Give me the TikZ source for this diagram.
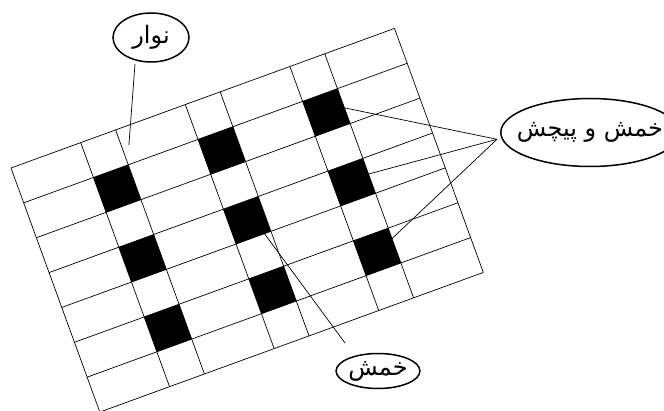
\documentclass[tikz,border=0pt]{standalone}
\usepackage{fontspec}
\newfontfamily\arabicfont[Script=Arabic]{DejaVu Sans}
\TeXXeTstate=1
\usetikzlibrary{shapes.geometric}
\tikzset{
  bubble/.style={draw, ellipse, line width=1.5pt, inner sep=0pt,
    font=\arabicfont\fontsize{24}{28}\selectfont},
  lead/.style={line width=0.7pt},
}
\begin{document}
\begin{tikzpicture}[x=1pt,y=1pt]
\useasboundingbox (0,0) rectangle (664,410);
\clip (0,0) rectangle (664,410);
% rotated strip grid
\begin{scope}[shift={(11,242)}, rotate=20, x=37.1pt, y=37.1pt, line width=0.7pt]
  \foreach \c in {2,5,8}
    \foreach \r in {1,3,5}
      \fill (\c,-\r) rectangle ++(1,-1);
  \foreach \r in {0,...,7}
    \draw (0,-\r) -- (11,-\r);
  \foreach \c in {0,2,3,5,6,8,9,11}
    \draw (\c,0) -- (\c,-7);
  \coordinate (stripTip) at (3.2,-0.5);
  \coordinate (bendTip) at (5.8,-3.95);
  \coordinate (twistA) at (9,-1.55);
  \coordinate (twistB) at (9,-3.45);
  \coordinate (twistC) at (9,-5.3);
\end{scope}
% labels
\node[bubble, minimum width=76pt, minimum height=49pt] (strip) at (151,372.5) {\beginR نوار\endR};
\node[bubble, inner xsep=-10pt, minimum width=172pt, minimum height=68pt] (twist) at (590,277.5) {\beginR خمش و پیچش\endR};
\node[bubble, minimum width=73pt, minimum height=35pt] (bend) at (378,39) {\beginR خمش\endR};
\coordinate (stripEnd) at (135,346);
\coordinate (bendEnd) at (345,67);
\coordinate (apex) at (497,270.7);
% leaders
\draw[lead] (stripEnd) -- (stripTip);
\draw[lead] (bendTip) -- (bendEnd);
\foreach \t in {twistA,twistB,twistC}
  \draw[lead] (\t) -- (apex);
\end{tikzpicture}
\end{document}
